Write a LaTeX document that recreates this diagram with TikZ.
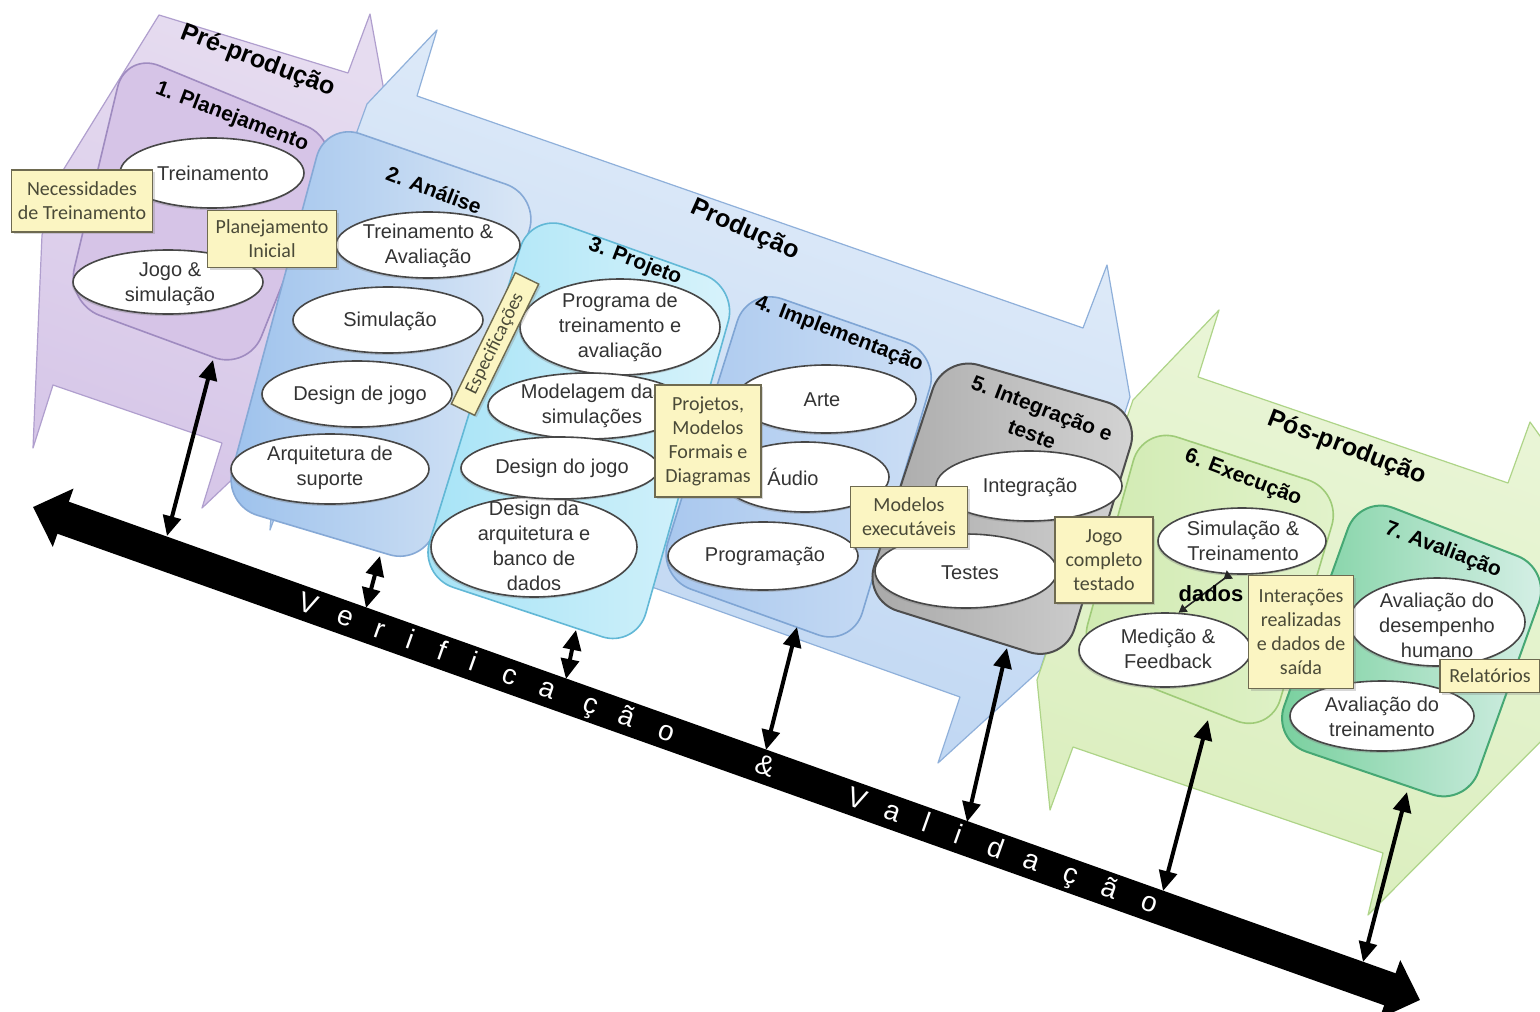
\documentclass[tikz,border=0pt]{standalone}
\usepackage{fontspec}
\setmainfont{Liberation Sans}
\newfontfamily\notefont{Carlito}
\usetikzlibrary{shapes.geometric,arrows.meta,shadows}

\definecolor{preTop}{HTML}{E6DCF0}
\definecolor{preBot}{HTML}{D6C6E8}
\definecolor{preLine}{HTML}{B09FCE}
\definecolor{planFill}{HTML}{D6C4E7}
\definecolor{planLine}{HTML}{9F8BC0}
\definecolor{proTop}{HTML}{E4EEFA}
\definecolor{proBot}{HTML}{BAD3F1}
\definecolor{proLine}{HTML}{8FB0DA}
\definecolor{anaA}{HTML}{9CC1EC}
\definecolor{anaB}{HTML}{DCE8F6}
\definecolor{anaLine}{HTML}{86A9D6}
\definecolor{prjA}{HTML}{A6E3F6}
\definecolor{prjB}{HTML}{D8F3FB}
\definecolor{prjLine}{HTML}{62B8D6}
\definecolor{impA}{HTML}{A8C7EE}
\definecolor{impB}{HTML}{CDDFF5}
\definecolor{impLine}{HTML}{7FA5D4}
\definecolor{grayA}{HTML}{A8A8A8}
\definecolor{grayB}{HTML}{D4D4D4}
\definecolor{grayLine}{HTML}{4D4D4D}
\definecolor{posTop}{HTML}{EBF6D9}
\definecolor{posBot}{HTML}{DAEEBD}
\definecolor{posLine}{HTML}{AED488}
\definecolor{exeA}{HTML}{D0EAB1}
\definecolor{exeB}{HTML}{E2F3CB}
\definecolor{exeLine}{HTML}{9FCB78}
\definecolor{avaA}{HTML}{76CF9C}
\definecolor{avaB}{HTML}{D8F0E8}
\definecolor{avaLine}{HTML}{46A874}
\definecolor{noteFill}{HTML}{FBF5C2}
\definecolor{noteLine}{HTML}{6E6A50}
\definecolor{noteText}{HTML}{4A4A38}
\definecolor{ellText}{HTML}{333333}

\begin{document}
\begin{tikzpicture}[x=0.5pt,y=-0.5pt,
  phase/.style={line width=0.6pt, line join=round},
  stage/.style={rounded corners=18pt, line width=0.8pt},
  ell/.style={ellipse, draw=black!72, line width=0.8pt, fill=white, inner sep=0pt,
    drop shadow={shadow xshift=-0.6pt, shadow yshift=-1pt, opacity=0.35}},
  elltxt/.style={align=center, font=\fontsize{10}{12.5}\selectfont, text=ellText, inner sep=0pt},
  note/.style={draw=noteLine, line width=0.7pt, fill=noteFill, align=center,
    font=\notefont\fontsize{10}{12}\selectfont, text=noteText, inner sep=1.5pt,
    drop shadow={shadow xshift=1pt, shadow yshift=-1pt, opacity=0.3}},
  ttl/.style={font=\bfseries\fontsize{10.5}{14}\selectfont, rotate=-21, inner sep=0pt, align=center},
  phasettl/.style={font=\bfseries\fontsize{12.5}{14}\selectfont, rotate=-21, inner sep=0pt},
  vv/.style={line width=2pt, {Triangle[length=10pt,width=9pt]}-{Triangle[length=10pt,width=9pt]}},
  vtxt/.style={text=white, font=\fontsize{14}{14}\selectfont, rotate=-19.56, inner sep=0pt,
    text height=8pt, text depth=0pt},
]
\useasboundingbox (0,0) rectangle (1540,1011);
\fill[white] (0,0) rectangle (1540,1011);
\clip (0,0) rectangle (1540,1011);

% ---------------- phase shapes ----------------
\draw[phase, draw=preLine, top color=preTop, bottom color=preBot, shading angle=-20]
  (159,15) -- (348,73) -- (370,14) -- (392,135) -- (300,415) -- (202,508) -- (222,443)
  -- (53,385) -- (33,448) -- (42,235) -- (62,172) -- cycle;
\draw[phase, draw=proLine, top color=proTop, bottom color=proBot, shading angle=-20]
  (437,30) -- (417,96) -- (1083,328) -- (1107,265) -- (1130,397) -- (1040,670) -- (938,763)
  -- (960,697) -- (296,460) -- (270,530) -- (285,330) -- (367,104) -- cycle;
\draw[phase, draw=posLine, top color=posTop, bottom color=posBot, shading angle=-20]
  (1219,310) -- (1198,377) -- (1508,483) -- (1530,422) -- (1600,520) -- (1562,720) -- (1368,915)
  -- (1383,853) -- (1073,747) -- (1050,810) -- (1037,680) -- (1133,400) -- cycle;

% ---------------- stage boxes ----------------
\draw[stage, draw=planLine, fill=planFill] (126,52) -- (340,140) -- (248,370) -- (66,303) -- cycle;
\draw[stage, draw=anaLine, left color=anaA, right color=anaB] (326,122) -- (540,196) -- (424,565) -- (223,505) -- cycle;
\draw[stage, draw=prjLine, left color=prjA, right color=prjB] (531,213) -- (738,287) -- (636,648) -- (419,576) -- cycle;
\draw[stage, draw=impLine, left color=impA, right color=impB] (748,287) -- (940,354) -- (852,647) -- (657,577) -- cycle;
\draw[stage, draw=grayLine, line width=1pt, left color=grayA, right color=grayB] (944,355) -- (1141,412) -- (1064,663) -- (863,600) -- cycle;
\draw[stage, draw=exeLine, left color=exeA, right color=exeB] (1143,426) -- (1342,491) -- (1270,734) -- (1078,659) -- cycle;
\draw[stage, draw=avaLine, line width=1pt, left color=avaA, right color=avaB] (1360,495) -- (1551,569) -- (1466,806) -- (1272,740) -- cycle;

% ---------------- titles ----------------
\node[phasettl] (tpre) at (258,61) {Pré-produção};
\node[ttl] (t1) at (232,117) {1. Planejamento};
\node[ttl] (t2) at (434,190) {2. Análise};
\node[phasettl, rotate=-3] (tpro) at (745,230) {Produção};
\node[ttl] (t3) at (635,262) {3. Projeto};
\node[ttl] (t4) at (839,334) {4. Implementação};
\node[ttl] (t5) at (1037,421) {5. Integração e\\teste};
\node[phasettl] (tpos) at (1347,448) {Pós-produção};
\node[ttl] (t6) at (1243,478) {6. Execução};
\node[ttl] (t7) at (1443,550) {7. Avaliação};

% ---------------- ellipses ----------------
\node[ell, minimum width=92pt, minimum height=35pt] (e1) at (212,173) {};
\node[ell, minimum width=95pt, minimum height=32pt] (e2) at (168,282) {};
\node[ell, minimum width=92pt, minimum height=33pt] (e3) at (428,245) {};
\node[ell, minimum width=95pt, minimum height=33pt] (e4) at (388,320) {};
\node[ell, minimum width=95pt, minimum height=33pt] (e5) at (357,394) {};
\node[ell, minimum width=99pt, minimum height=35pt] (e6) at (330,469) {};
\node[ell, minimum width=100pt, minimum height=48pt] (e7) at (620,327) {};
\node[ell, minimum width=100pt, minimum height=33pt] (e8) at (588,406) {};
\node[ell, minimum width=103pt, minimum height=50pt] (e10) at (534,547) {};
\node[ell, minimum width=99pt, minimum height=31pt] (e9) at (560,468) {};
\node[ell, minimum width=90pt, minimum height=34pt] (e11) at (826,399) {};
\node[ell, minimum width=84pt, minimum height=35pt] (e12) at (805,477) {};
\node[ell, minimum width=95pt, minimum height=34pt] (e13) at (763,556) {};
\node[ell, minimum width=93pt, minimum height=35pt] (e14) at (1029,486) {};
\node[ell, minimum width=91pt, minimum height=37pt] (e15) at (966,571) {};
\node[ell, minimum width=84pt, minimum height=33pt] (e16) at (1242,541) {};
\node[ell, minimum width=86pt, minimum height=37pt] (e17) at (1165,650) {};
\node[ell, minimum width=88pt, minimum height=44pt] (e18) at (1437,622) {};
\node[ell, minimum width=92pt, minimum height=35pt] (e19) at (1382,716) {};

\node[elltxt] (e1t) at (213,173) {Treinamento};
\node[elltxt] (e2t) at (170,284) {Jogo \&\\simulação};
\node[elltxt] (e3t) at (428,246) {Treinamento \&\\Avaliação};
\node[elltxt] (e4t) at (390,321) {Simulação};
\node[elltxt] (e5t) at (360,395) {Design de jogo};
\node[elltxt] (e6t) at (330,468) {Arquitetura de\\suporte};
\node[elltxt] (e7t) at (620,327) {Programa de\\treinamento e\\avaliação};
\node[elltxt] (e8t) at (592,406) {Modelagem das\\simulações};
\node[elltxt] (e9t) at (562,468) {Design do jogo};
\node[elltxt] (e10t) at (534,546) {Design da\\arquitetura e\\banco de\\dados};
\node[elltxt] (e11t) at (822,400) {Arte};
\node[elltxt] (e12t) at (793,477) {Áudio};
\node[elltxt] (e13t) at (765,556) {Programação};
\node[elltxt] (e14t) at (1030,487) {Integração};
\node[elltxt] (e15t) at (970,573) {Testes};
\node[elltxt] (e16t) at (1243,541) {Simulação \&\\Treinamento};
\node[elltxt] (e17t) at (1168,649) {Medição \&\\Feedback};
\node[elltxt] (e18t) at (1437,625) {Avaliação do\\desempenho\\humano};
\node[elltxt] (e19t) at (1382,717) {Avaliação do\\treinamento};

% dados connector
\draw[line width=0.8pt, draw=black!85, {Triangle[reversed,length=4pt,width=5pt]}-{Triangle[length=4pt,width=4.5pt]}] (e16.250) -- (e17.70);
\node[font=\bfseries\fontsize{11}{12}\selectfont, inner sep=0pt] (dados) at (1211,594) {dados};

% ---------------- notes ----------------
\node[note, minimum width=70.5pt, minimum height=31pt] (n1) at (82,201) {Necessidades\\de Treinamento};
\node[note, minimum width=64.5pt, minimum height=28.5pt] (n2) at (272,239) {Planejamento\\Inicial};
\node[note, rotate=64, minimum width=73pt, minimum height=13pt, inner sep=0.5pt,
  font=\notefont\fontsize{9.5}{11}\selectfont] (n3) at (495,344) {Especificações};
\node[note, minimum width=53pt, minimum height=56pt] (n4) at (708,441) {Projetos,\\Modelos\\Formais e\\Diagramas};
\node[note, minimum width=58.5pt, minimum height=30.5pt] (n5) at (909,517) {Modelos\\executáveis};
\node[note, minimum width=49pt, minimum height=43pt] (n6) at (1104,560) {Jogo\\completo\\testado};
\node[note, minimum width=52.5pt, minimum height=56.5pt] (n7) at (1301,632) {Interações\\realizadas\\e dados de\\saída};
\node[note, minimum width=50pt, minimum height=16.5pt] (n8) at (1490,676) {Relatórios};

% ---------------- V&V axis ----------------
\coordinate (axL) at (33,507);
\coordinate (axR) at (1420,1000);
\draw[line width=17pt, {Triangle[length=16pt,width=30pt]}-{Triangle[length=16pt,width=30pt]}] (axL) -- (axR);
\foreach \ch/\p [count=\i] in {V/0.198, e/0.225, r/0.250, i/0.272, f/0.295, i/0.317, c/0.344, a/0.371, ç/0.402, ã/0.428, o/0.457, \&/0.528, V/0.594, a/0.620, l/0.644, i/0.667, d/0.694, a/0.720, ç/0.748, ã/0.776, o/0.805}
  { \path (axL) -- (axR) node[vtxt, pos=\p] (vl\i) {\ch}; }

% ---------------- double arrows ----------------
\coordinate (a1t) at (213,360);  \coordinate (a1b) at (167,536);
\coordinate (a2t) at (380,556);  \coordinate (a2b) at (366,608);
\coordinate (a3t) at (576,630);  \coordinate (a3b) at (566,679);
\coordinate (a4t) at (797,627);  \coordinate (a4b) at (766,750);
\coordinate (a5t) at (1007,648); \coordinate (a5b) at (967,822);
\coordinate (a6t) at (1208,720); \coordinate (a6b) at (1163,891);
\coordinate (a7t) at (1407,792); \coordinate (a7b) at (1363,962);
\foreach \k in {1,...,7} { \draw[vv] (a\k b) -- (a\k t); }

\end{tikzpicture}
\end{document}
